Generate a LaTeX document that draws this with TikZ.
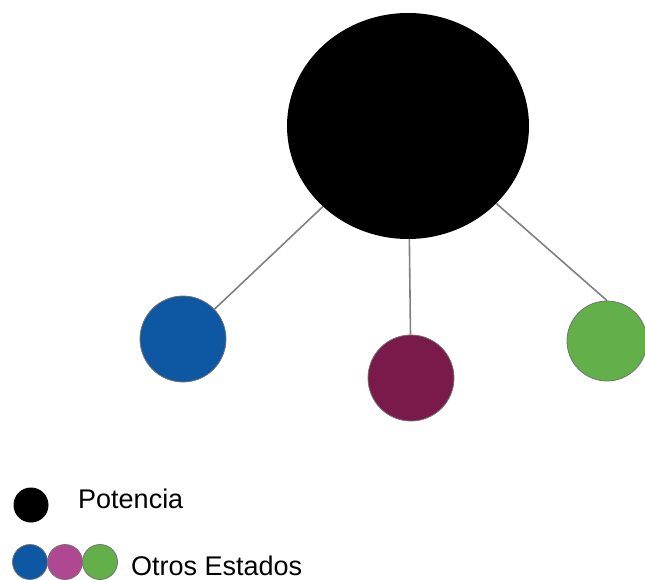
\documentclass[tikz,border=0pt]{standalone}
\usepackage{fontspec}
\setmainfont{Liberation Sans}
\usetikzlibrary{shapes.geometric}

\definecolor{azulEstado}{RGB}{14,88,163}
\definecolor{moradoEstado}{RGB}{122,26,74}
\definecolor{verdeEstado}{RGB}{99,176,74}
\definecolor{rosaEstado}{RGB}{176,72,145}
\definecolor{lineaGris}{RGB}{128,128,128}

\tikzset{
    estado/.style={circle, inner sep=0pt, minimum size=#1, draw=black!55, line width=0.8pt},
    enlace/.style={lineaGris, line width=1.6pt},
    leyenda/.style={anchor=base west, inner sep=0pt, font=\fontsize{27}{32}\selectfont}
}

\begin{document}
\begin{tikzpicture}[x=1pt, y=-1pt]
    % --- marco del dibujo ---
    \useasboundingbox (0,0) rectangle (645,580);

    % --- potencia central ---
    \node[ellipse, fill=black, inner sep=0pt, minimum width=242pt, minimum height=226pt] (potencia) at (408,126) {};

    % --- otros estados ---
    \node[estado=86pt, fill=azulEstado] (estadoA) at (183,339) {};
    \node[estado=86pt, fill=moradoEstado] (estadoB) at (411,378) {};
    \node[estado=80pt, fill=verdeEstado] (estadoC) at (607,341) {};

    % --- enlaces ---
    \draw[enlace] (potencia) -- (estadoA);
    \draw[enlace] (potencia) -- (estadoB);
    \draw[enlace] (potencia) -- (estadoC.north);

    % --- leyenda ---
    \node[circle, fill=black, inner sep=0pt, minimum size=35pt] (leyPotencia) at (31,505) {};
    \node[leyenda] (txtPotencia) at (78,508) {Potencia};

    \node[estado=35pt, fill=azulEstado] (leyA) at (30,562) {};
    \node[estado=35pt, fill=rosaEstado] (leyB) at (65,562) {};
    \node[estado=35pt, fill=verdeEstado] (leyC) at (100,562) {};
    \node[leyenda] (txtEstados) at (131,575) {Otros Estados};
\end{tikzpicture}
\end{document}
